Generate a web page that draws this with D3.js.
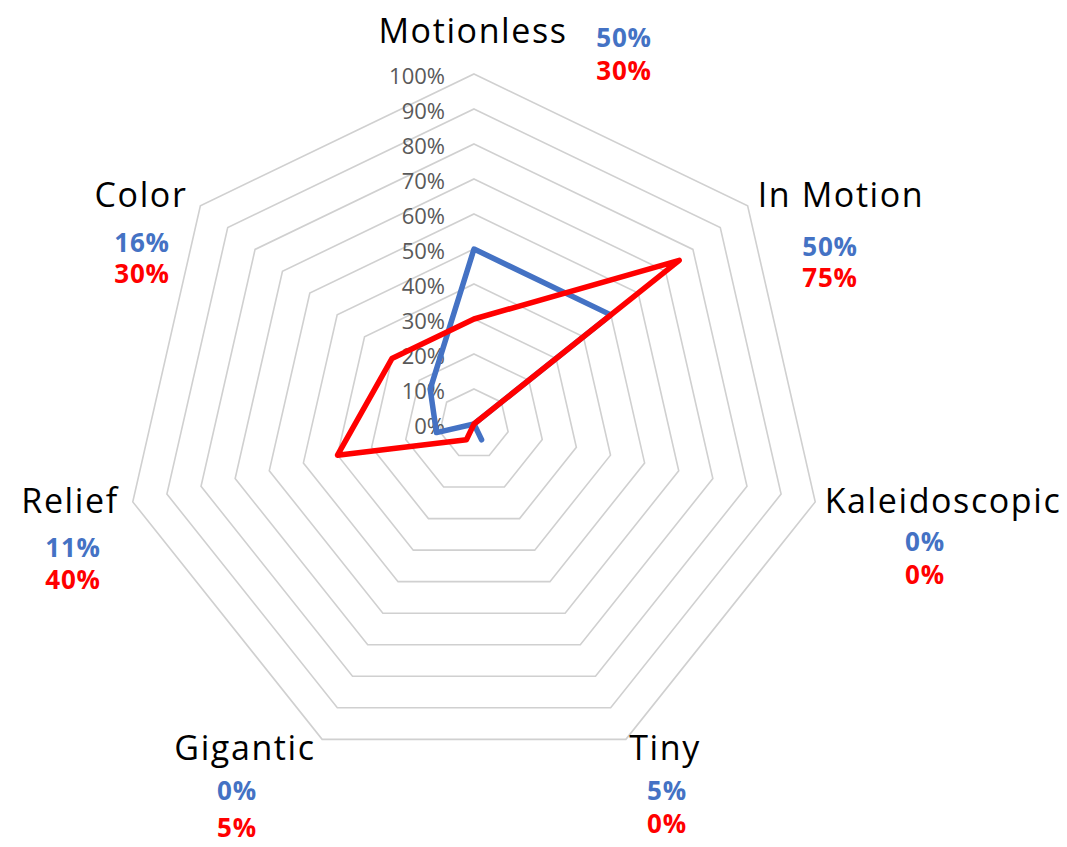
<!DOCTYPE html>
<html>
<head>
<meta charset="utf-8">
<script src="https://cdn.jsdelivr.net/npm/d3@7"></script>
<style>
    body { margin: 0; background: #fff; }
    svg { display: block; font-family: "Open Sans", sans-serif; }
</style>
</head>
<body>
<div id="chart"></div>
<script>
const categories = ['Motionless', 'In Motion', 'Kaleidoscopic', 'Tiny', 'Gigantic', 'Relief', 'Color'];
const blueValues = [0.50, 0.50, 0.00, 0.05, 0.00, 0.11, 0.16];
const redValues = [0.30, 0.75, 0.00, 0.00, 0.05, 0.40, 0.30];
const tickValues = [0, 0.1, 0.2, 0.3, 0.4, 0.5, 0.6, 0.7, 0.8, 0.9, 1.0];

const width = 1067;
const height = 847;
const cx = 474;
const cy = 424;

// label anchors (category name, then the two value lines under it)
const labelLayout = [
    { x: 473, y: 43, vx: 624, vy: [47, 80] },
    { x: 841, y: 207, vx: 830, vy: [256, 287] },
    { x: 943, y: 513, vx: 925, vy: [551, 584] },
    { x: 665, y: 760, vx: 667, vy: [800, 833] },
    { x: 245, y: 760, vx: 237, vy: [800, 837] },
    { x: 70, y: 513, vx: 73, vy: [557, 589] },
    { x: 141, y: 207, vx: 142, vy: [252, 283] }
];

const r = d3.scaleLinear().domain([0, 1]).range([0, 350]);
const angle = d3.scaleLinear().domain([0, categories.length]).range([0, 2 * Math.PI]);

const svg = d3.select('#chart').append('svg')
    .attr('width', width)
    .attr('height', height);

svg.append('rect').attr('width', width).attr('height', height).attr('fill', '#fff');

const g = svg.append('g').attr('transform', `translate(${cx},${cy})`);

const radial = d3.lineRadial()
    .angle((d, i) => angle(i))
    .radius(d => r(d))
    .curve(d3.curveLinearClosed);

// grid rings
g.selectAll('.ring')
    .data(tickValues.slice(1))
    .enter().append('path')
    .attr('class', 'ring')
    .attr('d', t => radial(categories.map(() => t)))
    .attr('fill', 'none')
    .attr('stroke', '#d0d0d0')
    .attr('stroke-width', 1.6);

// tick labels
g.selectAll('.tick')
    .data(tickValues)
    .enter().append('text')
    .attr('class', 'tick')
    .attr('x', -29)
    .attr('y', t => -r(t) + 2)
    .attr('dy', '0.35em')
    .attr('text-anchor', 'end')
    .attr('font-size', 22)
    .attr('fill', '#595959')
    .text(d3.format('.0%'));

// series
const series = [
    { values: blueValues, color: '#4472C4' },
    { values: redValues, color: '#FF0000' }
];

g.selectAll('.series')
    .data(series)
    .enter().append('path')
    .attr('class', 'series')
    .attr('d', s => radial(s.values))
    .attr('fill', 'none')
    .attr('stroke', s => s.color)
    .attr('stroke-width', 5.5)
    .attr('stroke-linejoin', 'round');

// category labels and values
const labels = svg.selectAll('.cat')
    .data(categories)
    .enter().append('g')
    .attr('class', 'cat');

labels.append('text')
    .attr('x', (d, i) => labelLayout[i].x)
    .attr('y', (d, i) => labelLayout[i].y)
    .attr('text-anchor', 'middle')
    .attr('font-size', 34)
    .attr('letter-spacing', 1.6)
    .attr('fill', '#000')
    .text(d => d);

series.forEach((s, k) => {
    labels.append('text')
        .attr('x', (d, i) => labelLayout[i].vx)
        .attr('y', (d, i) => labelLayout[i].vy[k])
        .attr('text-anchor', 'middle')
        .attr('font-size', 26)
        .attr('font-weight', 'bold')
        .attr('letter-spacing', 0.8)
        .attr('fill', s.color)
        .text((d, i) => d3.format('.0%')(s.values[i]));
});
</script>
</body>
</html>
